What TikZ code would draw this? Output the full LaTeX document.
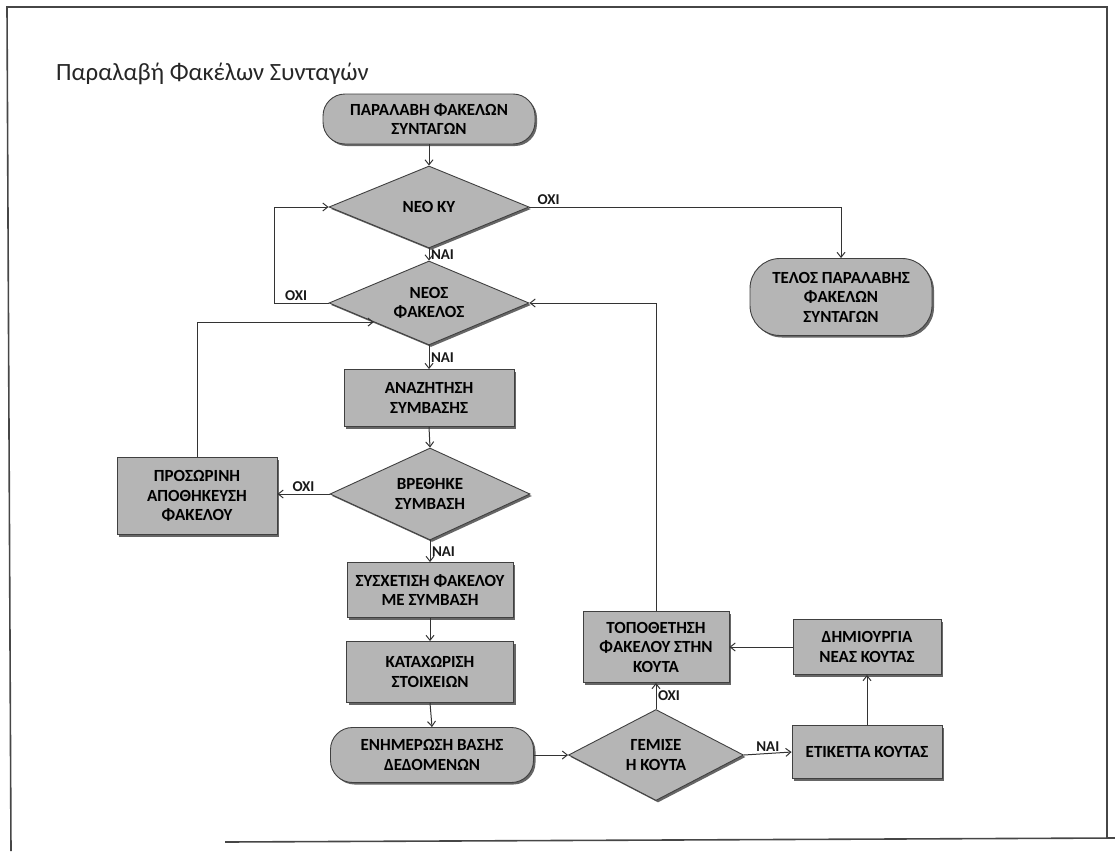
\documentclass[tikz,border=0pt]{standalone}
\usepackage{fontspec}
\setmainfont{Carlito}
\usetikzlibrary{shapes.geometric,arrows.meta,shadows,calc}
\begin{document}
\begin{tikzpicture}[x=1pt,y=-1pt,
 base/.style={draw=black!75, line width=0.9pt, fill=gray!58, align=center, text=black,
   font=\bfseries\fontsize{17}{19.5}\selectfont,
   drop shadow={shadow xshift=2pt,shadow yshift=-2pt,fill=black!60,opacity=1}},
 procbox/.style={base, rectangle, inner sep=1pt},
 termbox/.style={base, rectangle, rounded corners=22pt, inner sep=1pt},
 decbox/.style={base, diamond, aspect=2.4, inner sep=0pt},
 conn/.style={draw=black!80, line width=1pt, -{Straight Barb[length=5pt,width=8pt]}},
 lbl/.style={font=\bfseries\fontsize{15}{17}\selectfont, text=black!90, inner sep=1.5pt},
 frameline/.style={draw=gray!55!black, line width=1.6pt}
]
\useasboundingbox (0,0) rectangle (1115,851);
% frame
\draw[frameline] (11,851) -- (7,7) -- (1107,7) -- (1107,838);
\draw[frameline] (225,842) -- (1115,838);

\node[anchor=base west, font=\fontsize{24.8}{30}\selectfont, text=black!85, inner sep=0pt] (title) at (56,80) {Παραλαβή Φακέλων Συνταγών};

% nodes
\node[termbox, minimum width=212pt, minimum height=50pt] (start) at (429,119) {ΠΑΡΑΛΑΒΗ ΦΑΚΕΛΩΝ\\ΣΥΝΤΑΓΩΝ};
\node[decbox, minimum width=200pt, minimum height=82pt] (ky) at (429,207) {ΝΕΟ ΚΥ};
\node[decbox, minimum width=200pt, minimum height=84pt] (fak) at (429,303) {ΝΕΟΣ\\ΦΑΚΕΛΟΣ};
\node[termbox, rounded corners=30pt, minimum width=182pt, minimum height=77pt] (end) at (841,297) {ΤΕΛΟΣ ΠΑΡΑΛΑΒΗΣ\\ΦΑΚΕΛΩΝ\\ΣΥΝΤΑΓΩΝ};
\node[procbox, minimum width=170pt, minimum height=57pt] (anaz) at (429,398) {ΑΝΑΖΗΤΗΣΗ\\ΣΥΜΒΑΣΗΣ};
\node[decbox, minimum width=200pt, minimum height=92pt] (vreth) at (430,494) {ΒΡΕΘΗΚΕ\\ΣΥΜΒΑΣΗ};
\node[procbox, minimum width=160pt, minimum height=77pt] (pros) at (197,496) {ΠΡΟΣΩΡΙΝΗ\\ΑΠΟΘΗΚΕΥΣΗ\\ΦΑΚΕΛΟΥ};
\node[procbox, minimum width=166pt, minimum height=55pt] (sysx) at (430,590) {ΣΥΣΧΕΤΙΣΗ ΦΑΚΕΛΟΥ\\ΜΕ ΣΥΜΒΑΣΗ};
\node[procbox, minimum width=167pt, minimum height=61pt] (kat) at (430,672) {ΚΑΤΑΧΩΡΙΣΗ\\ΣΤΟΙΧΕΙΩΝ};
\node[termbox, rounded corners=22pt, minimum width=203pt, minimum height=55pt] (enim) at (432,755) {ΕΝΗΜΕΡΩΣΗ ΒΑΣΗΣ\\ΔΕΔΟΜΕΝΩΝ};
\node[decbox, minimum width=175pt, minimum height=91pt] (gem) at (656,755) {ΓΕΜΙΣΕ\\Η ΚΟΥΤΑ};
\node[procbox, minimum width=146pt, minimum height=71pt] (top) at (656,647) {ΤΟΠΟΘΕΤΗΣΗ\\ΦΑΚΕΛΟΥ ΣΤΗΝ\\ΚΟΥΤΑ};
\node[procbox, minimum width=150pt, minimum height=53pt] (etik) at (867,752) {ΕΤΙΚΕΤΤΑ ΚΟΥΤΑΣ};
\node[procbox, minimum width=148pt, minimum height=55pt] (dim) at (867,647) {ΔΗΜΙΟΥΡΓΙΑ\\ΝΕΑΣ ΚΟΥΤΑΣ};

% connectors
\draw[conn] (start.south) -- (ky.north);
\draw[conn] (ky.east) -- node[lbl, pos=0.02, anchor=south west] (l1) {ΟΧΙ} (ky.east -| end.north) -- (end.north);
\draw[conn] (ky.south) -- node[lbl, anchor=west] (l2) {ΝΑΙ} (fak.north);
\draw[conn] (fak.west) -- node[lbl, pos=0.6, anchor=south] (l3) {ΟΧΙ} ++(-54,0) |- (ky.west);
\draw[conn] (fak.south) -- node[lbl, anchor=west] (l4) {ΝΑΙ} (anaz.north);
\draw[conn] (anaz.south) -- (vreth.north);
\draw[conn] (vreth.west) -- node[lbl, anchor=south] (l5) {ΟΧΙ} (vreth.west -| pros.east);
\coordinate (fakin) at ($(fak.west)!0.45!(fak.south)$);
\draw[conn] (pros.north) |- (fakin);
\draw[conn] (vreth.south) -- node[lbl, anchor=west] (l6) {ΝΑΙ} (sysx.north);
\draw[conn] (sysx.south) -- (kat.north);
\draw[conn] (kat.south) -- (enim.north);
\draw[conn] (enim.east) -- (gem.west);
\draw[conn] (gem.north) -- node[lbl, anchor=west] (l7) {ΟΧΙ} (top.south);
\draw[conn] (gem.east) -- node[lbl, anchor=south] (l8) {ΝΑΙ} (etik.west);
\draw[conn] (etik.north) -- (dim.south);
\draw[conn] (dim.west) -- (top.east);
\draw[conn] (top.north) |- (fak.east);
\end{tikzpicture}
\end{document}
